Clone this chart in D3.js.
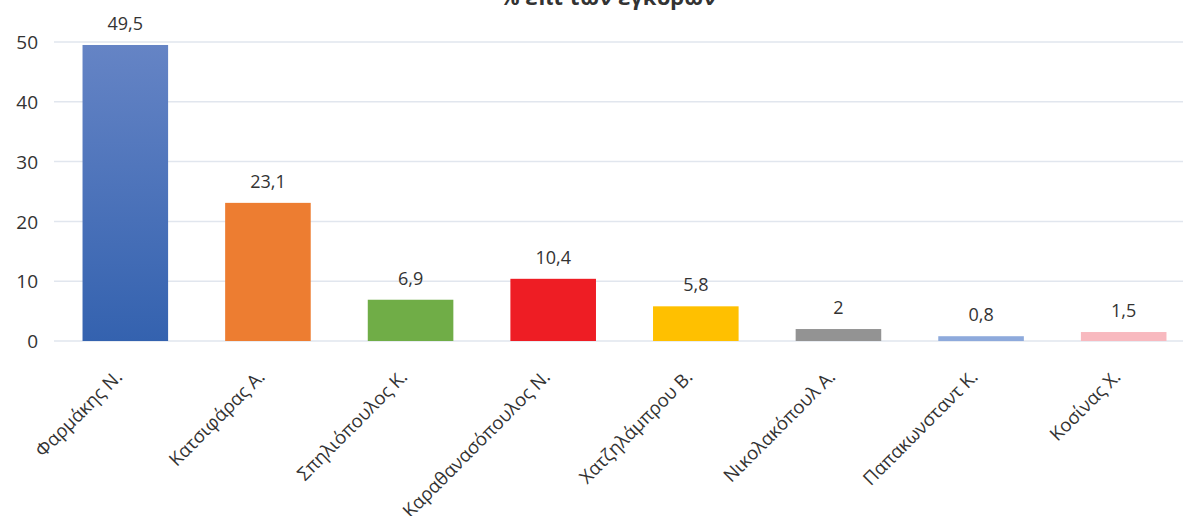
<!DOCTYPE html>
<html><head><meta charset="utf-8">
<script src="https://cdn.jsdelivr.net/npm/d3@7"></script>
<style>body{margin:0;background:#fff;overflow:hidden}svg{display:block}</style>
</head><body>
<script>
const categories = ["Φαρμάκης Ν.","Κατσιφάρας  Α.","Σπηλιόπουλος Κ.","Καραθανασόπουλος Ν.","Χατζηλάμπρου Β.","Νικολακόπουλ Α.","Παπακωνσταντ Κ.","Κοσίνας Χ."];
const values = [49.5, 23.1, 6.9, 10.4, 5.8, 2, 0.8, 1.5];
const valueLabels = ["49,5","23,1","6,9","10,4","5,8","2","0,8","1,5"];
const colors = ["url(#blueGrad)","#ed7d31","#70ad47","#ee1d24","#ffc000","#939393","#8eaadc","#f8b9bf"];
const yTicks = [0,10,20,30,40,50];
const title = "% επί των εγκύρων";

const W = 1183, H = 516;
const font = "'Open Sans', 'Noto Sans', sans-serif";
const svg = d3.select("body").append("svg").attr("width", W).attr("height", H);
const defs = svg.append("defs");
const g = defs.append("linearGradient").attr("id","blueGrad").attr("x1",0).attr("y1",0).attr("x2",0).attr("y2",1);
g.append("stop").attr("offset","0%").attr("stop-color","#6584c5");
g.append("stop").attr("offset","100%").attr("stop-color","#3462af");

const x = d3.scaleBand().domain(categories).range([54, 1195]).paddingInner(0.4).paddingOuter(0.2);
const y = d3.scaleLinear().domain([0,50]).range([341, 42]);

// gridlines
svg.append("g").selectAll("line").data(yTicks).join("line")
  .attr("x1", 54).attr("x2", W).attr("y1", d=>y(d)).attr("y2", d=>y(d))
  .attr("stroke", "#e1e6ee").attr("stroke-width", 1.5);

// y axis labels
const yAxis = d3.axisLeft(y).tickValues(yTicks).tickSize(0).tickPadding(0);
const ya = svg.append("g").attr("transform","translate(38,0)").call(yAxis);
ya.select(".domain").remove();
ya.selectAll("text").attr("font-family", font).attr("font-size", 19).attr("fill","#333").attr("dy","0.35em");

// bars
svg.append("g").selectAll("rect").data(values).join("rect")
  .attr("x", (d,i)=>x(categories[i])).attr("width", x.bandwidth())
  .attr("y", d=>y(d)).attr("height", d=>y(0)-y(d))
  .attr("fill", (d,i)=>colors[i]);

// value labels
svg.append("g").selectAll("text").data(values).join("text")
  .attr("x", (d,i)=>x(categories[i]) + x.bandwidth()/2)
  .attr("y", d=>y(d) - 15)
  .attr("text-anchor","middle").attr("font-family", font).attr("font-size", 18).attr("fill","#333")
  .text((d,i)=>valueLabels[i]);

// category labels
const xAxis = d3.axisBottom(x).tickSize(0).tickPadding(0);
const xa = svg.append("g").attr("transform","translate(0,341)").call(xAxis);
xa.select(".domain").remove();
xa.selectAll("text")
  .attr("font-family", font).attr("font-size", 18.5).attr("fill","#333")
  .attr("text-anchor","end").attr("dy", 0).attr("y", 0)
  .attr("transform", "translate(-2,37) rotate(-45)");

// title
svg.append("text").attr("x", 608).attr("y", 5).attr("text-anchor","middle")
  .attr("font-family", font).attr("font-size", 22).attr("font-weight","bold").attr("fill","#333")
  .text(title);
</script>
</body></html>
